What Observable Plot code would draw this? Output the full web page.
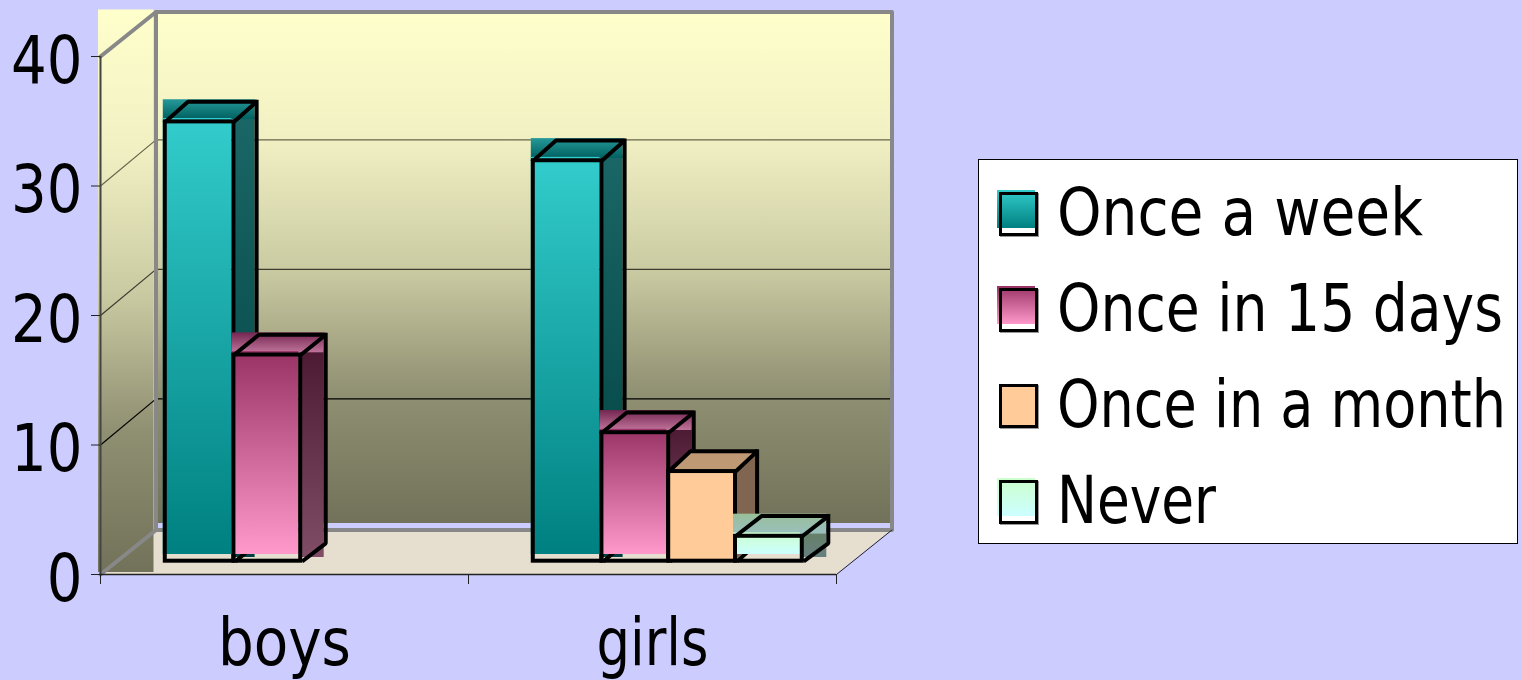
<!DOCTYPE html>
<html><head><meta charset="utf-8">
<script src="https://cdn.jsdelivr.net/npm/d3@7"></script>
<script src="https://cdn.jsdelivr.net/npm/@observablehq/plot@0.6"></script>
<style>
html,body{margin:0;padding:0;background:#ccccff;overflow:hidden;width:1521px;height:680px}
#chart{position:absolute;left:0;top:0}
#legend{position:absolute;left:978px;top:159px;width:538px;height:383px;background:#fff;border:1px solid #000}
.row{position:absolute;left:0;height:60px;width:530px}
.sw-fill{position:absolute;left:18px;width:38px;height:38px}
.sw-box{position:absolute;left:20px;width:39px;height:44px;box-sizing:border-box;border:3.5px solid #000;box-shadow:1px 1px 0 #999}
.lab{position:absolute;left:78px;font:66px "DejaVu Sans Condensed","DejaVu Sans",sans-serif;line-height:70px;white-space:nowrap;color:#000;transform-origin:0 0}
</style></head><body>
<div id="chart"></div><div id="legend"></div>
<script>
const FONT = '"DejaVu Sans Condensed", "DejaVu Sans", sans-serif';
const categories = ["boys", "girls"];
const seriesNames = ["Once a week", "Once in 15 days", "Once in a month", "Never"];
const onceAWeek = [34, 31];
const onceIn15Days = [16, 10];
const onceInAMonth = [null, 7];
const never = [null, 2];
const yTicks = [0, 10, 20, 30, 40];
const gridValues = [10, 20, 30];
const gridColors = ["#000", "#3c3c30", "#66664c"];

// gradients: top colour, bottom colour for each face of each series
const frontTop = ["#33cccc", "#993366", "#ffcc99", "#ccffcc"];
const frontBottom = ["#008080", "#ff99cc", "#ffcc99", "#ccffff"];
const lidTop = ["#269999", "#732650", "#bf9973", "#99bf99"];
const lidBottom = ["#006060", "#bf7399", "#bf9973", "#99bfbf"];
const sideTop = ["#1a6666", "#4d1a33", "#806650", "#668066"];
const sideBottom = ["#004040", "#804d66", "#806650", "#668080"];
const wallStops = [[0, "#ffffcc"], [0.25, "#f1f0c3"], [0.5, "#cbcba3"], [0.75, "#8f8f72"], [1, "#72725a"]];
const solidSeries = [false, false, true, false];

const allSeries = [onceAWeek, onceIn15Days, onceInAMonth, never];

// oblique projection, in data units
const pxX = 1 / 368, pxY = 1 / 12.95;
const wallX = 55.5 * pxX, wallY = 3.44, gridY = 3.56;  // chart depth
const barXs = [22.7, 25, 21.6, 26].map(d => d * pxX), barY = 1.56; // bar depth
const barW = 0.1815, barStart = 0.143, lidH = 1.54;

const defs = () => {
  const d = d3.create("svg:defs");
  const add = (id, stops) => {
    const g = d.append("linearGradient").attr("id", id).attr("x1", 0).attr("y1", 0).attr("x2", 0).attr("y2", 1);
    stops.forEach(([o, c]) => g.append("stop").attr("offset", o).attr("stop-color", c));
  };
  add("wall", wallStops);
  seriesNames.forEach((_, s) => {
    add("front" + s, [[0, frontTop[s]], [1, frontBottom[s]]]);
    add("lid" + s, [[0, lidTop[s]], [1, lidBottom[s]]]);
    add("side" + s, [[0, sideTop[s]], [1, sideBottom[s]]]);
  });
  return d.node();
};

const barMarks = [];
categories.forEach((_, c) => {
  allSeries.forEach((vals, s) => {
    const v = vals[c];
    if (v == null) return;
    const xl = c + barStart + s * barW - (s === 0 ? 0.005 : 0), xr = c + barStart + (s + 1) * barW;
    const barX = barXs[s], sideW = barX - 1.5 * pxX;
    const one = [{}];
    if (solidSeries[s]) {
      barMarks.push(
        Plot.areaY([{x: xr, a: 0, b: v}, {x: xr + barX, a: barY, b: v + barY}], {x: "x", y1: "a", y2: "b", dx: 14, dy: -12.8, fill: sideTop[s]}),
        Plot.areaX([{y: v, a: xl, b: xr}, {y: v + barY, a: xl + barX, b: xr + barX}], {y: "y", x1: "a", x2: "b", dx: 14, dy: -12.3, fill: lidTop[s]}),
        Plot.rect(one, {x1: () => xl, x2: () => xr, y1: () => 0, y2: () => v, dx: 14, dy: -13.3, insetTop: 1, fill: frontTop[s]})
      );
    } else {
      barMarks.push(
        Plot.rect(one, {x1: () => xr, x2: () => xr + sideW, y1: () => 0, y2: () => v, dx: 14, dy: -17, fill: `url(#side${s})`}),
        Plot.rect(one, {x1: () => xl, x2: () => xr + sideW + 2 * pxX, y1: () => v, y2: () => v + lidH, dx: 12, dy: -14.5, fill: `url(#lid${s})`}),
        Plot.rect(one, {x1: () => xl, x2: () => xr, y1: () => 0, y2: () => v, dx: 12, dy: -20, insetTop: 4.3, fill: `url(#front${s})`})
      );
    }
    barMarks.push(
      Plot.rect(one, {x1: () => xl, x2: () => xr, y1: () => 0, y2: () => v, dx: 14, dy: -13.3, insetTop: 1, fill: "none", stroke: "#000", strokeWidth: 4}),
      Plot.line([
        {k: 0, x: xl, y: v}, {k: 0, x: xl + barX, y: v + barY}, {k: 0, x: xr + barX, y: v + barY}, {k: 0, x: xr, y: v},
        {k: 1, x: xr + barX, y: v + barY}, {k: 1, x: xr + barX, y: barY - 0.1}, {k: 1, x: xr + 3 * pxX, y: 0.15}
      ], {x: "x", y: "y", z: "k", dx: 14, dy: -12.3, stroke: "#000", strokeWidth: 4, strokeLinecap: "square", strokeLinejoin: "miter"})
    );
  });
});

const framePts = [
  {k: 0, x: 0, y: 40}, {k: 0, x: wallX, y: 40 + wallY}, {k: 0, x: 2 + wallX, y: 40 + wallY},
  {k: 0, x: 2 + wallX, y: wallY}, {k: 0, x: wallX, y: wallY}, {k: 0, x: 0, y: 0},
  {k: 1, x: wallX, y: wallY}, {k: 1, x: wallX, y: 40 + wallY}
];
const gridMarks = gridValues.map((v, i) => Plot.line(
  [{x: 0, y: v}, {x: wallX, y: v + gridY}, {x: 2 + wallX, y: v + gridY}],
  {x: "x", y: "y", stroke: gridColors[i], strokeWidth: 1.2}
));

const plot = Plot.plot({
  width: 1521, height: 680,
  marginLeft: 100, marginRight: 685, marginTop: 56, marginBottom: 106,
  x: {domain: [0, 2], axis: null},
  y: {domain: [0, 40], axis: null},
  style: {background: "transparent", overflow: "visible", fontFamily: FONT},
  marks: [
    defs,
    // floor
    Plot.areaX([{y: 0, a: 0, b: 2}, {y: wallY, a: wallX, b: 2 + wallX}], {y: "y", x1: "a", x2: "b", fill: "#e6dfcf"}),
    // back wall and left wall
    Plot.rect([{}], {x1: () => 0, x2: () => 2, y1: () => 0, y2: () => 40, dx: 57, dy: -44.5, insetBottom: 6.5, insetRight: 3, fill: "url(#wall)"}),
    Plot.rect([{}], {x1: () => 0, x2: () => wallX, y1: () => 0, y2: () => 40 + wallY, dx: -2, dy: -2, fill: "url(#wall)"}),
    ...gridMarks,
    Plot.line(framePts, {x: "x", y: "y", z: "k", stroke: "#888", strokeWidth: 4}),
    Plot.line([{x: 2, y: 0}, {x: 2 + wallX, y: wallY}], {x: "x", y: "y", stroke: "#222", strokeWidth: 1}),
    Plot.ruleX([0], {y1: 0, y2: 40, stroke: "#444", strokeWidth: 2}),
    Plot.ruleY([0], {x1: 0, x2: 2, stroke: "#222", strokeWidth: 1.5}),
    Plot.axisY({ticks: yTicks, tickSize: 9, tickFormat: () => "", label: null, stroke: "#222"}),
    Plot.axisX({ticks: [0, 1, 2], tickSize: 10, tickFormat: () => "", label: null, stroke: "#222"}),
    ...barMarks,
    Plot.text(yTicks, {x: () => 0, y: d => d, text: d => String(d), dx: -18, dy: 5, textAnchor: "end", fontSize: 66, fontFamily: FONT, fill: "#000"}),
    Plot.text(categories, {x: (d, i) => i + 0.5, y: () => 0, text: d => d, dy: 69, fontSize: 66, fontFamily: FONT, fill: "#000"})
  ]
});
document.getElementById("chart").append(plot);

// the reference's type has slightly different proportions: fit each text to its width there
const labelWidths = new Map([["boys", 133], ["girls", 112]]);
plot.querySelectorAll("text").forEach(t => {
  const w = t.getComputedTextLength();
  if (w > 0) {
    const target = labelWidths.get(t.textContent) ?? w * 0.945;
    t.setAttribute("textLength", target.toFixed(1));
    t.setAttribute("lengthAdjust", "spacingAndGlyphs");
  }
});

const legend = document.getElementById("legend");
const legendWidths = [366, 446, 449, 159];
seriesNames.forEach((name, s) => {
  const row = document.createElement("div");
  row.className = "row";
  row.style.top = (30 + s * 96) + "px";
  const box = document.createElement("div");
  box.className = "sw-box";
  box.style.top = "2px";
  if (solidSeries[s]) box.style.background = frontTop[s];
  const fill = document.createElement("div");
  fill.className = "sw-fill";
  fill.style.top = "0px";
  fill.style.background = `linear-gradient(${frontTop[s]},${frontBottom[s]})`;
  const lab = document.createElement("div");
  lab.className = "lab";
  lab.style.top = "-12px";
  lab.textContent = name;
  if (!solidSeries[s]) row.append(fill);
  row.append(box, lab);
  legend.append(row);
  lab.style.transform = `scaleX(${legendWidths[s] / lab.getBoundingClientRect().width})`;
});
</script>
</body></html>
